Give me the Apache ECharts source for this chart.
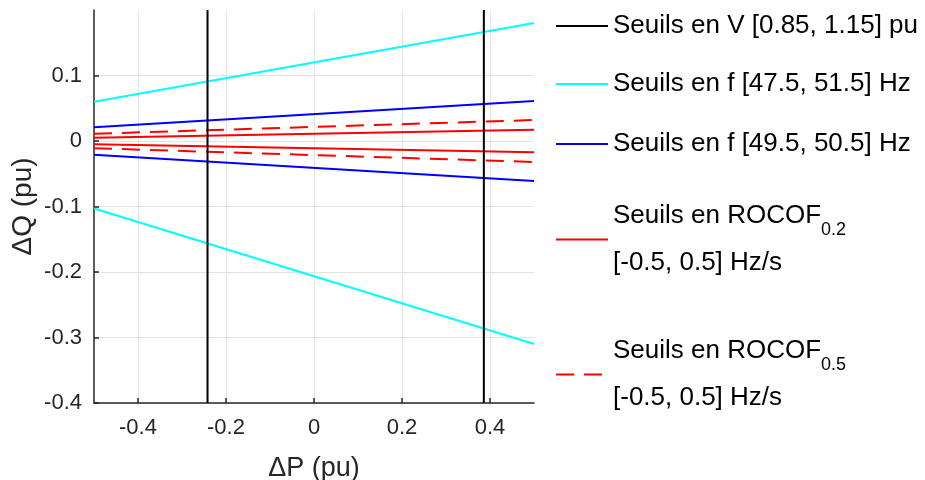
<!DOCTYPE html>
<html>
<head>
<meta charset="utf-8">
<script src="https://cdn.jsdelivr.net/npm/echarts@6/dist/echarts.min.js"></script>
<style>
html,body{margin:0;padding:0;background:#fff;}
#chart{width:925px;height:480px;}
</style>
</head>
<body>
<div id="chart"></div>
<script>
// ---- data ----
const xEnds = [-0.5, 0.5];              // ΔP at the ends of each threshold line
const yLimits = [-0.4, 0.2];            // ΔQ range spanned by the voltage thresholds
const vThresholds = [-0.242, 0.386];    // Seuils en V (vertical lines, ΔP)
const fWideUpper = [0.060, 0.180];      // Seuils en f [47.5, 51.5] Hz
const fWideLower = [-0.103, -0.310];
const fNarrowUpper = [0.021, 0.061];    // Seuils en f [49.5, 50.5] Hz
const fNarrowLower = [-0.021, -0.061];
const rocof02Upper = [0.005, 0.017];    // Seuils en ROCOF0.2
const rocof02Lower = [-0.005, -0.017];
const rocof05Upper = [0.011, 0.032];    // Seuils en ROCOF0.5
const rocof05Lower = [-0.011, -0.032];

const names = [
  'Seuils en V [0.85, 1.15] pu',
  'Seuils en f [47.5, 51.5] Hz',
  'Seuils en f [49.5, 50.5] Hz',
  'ROCOF02',
  'ROCOF05'
];

const pair = (ys) => xEnds.map((x, i) => [x, ys[i]]);
const vert = (x) => yLimits.map(y => [x, y]);

function lineSeries(name, data, color, type, width) {
  return {
    type: 'line', name: name, data: data, symbol: 'none',
    lineStyle: { color: color, width: width || 2, type: type || 'solid' },
    itemStyle: { color: color },
    silent: true, animation: false
  };
}

const series = [
  lineSeries(names[1], pair(fWideUpper), '#00FFFF'),
  lineSeries(names[1], pair(fWideLower), '#00FFFF'),
  lineSeries(names[2], pair(fNarrowUpper), '#0000FF'),
  lineSeries(names[2], pair(fNarrowLower), '#0000FF'),
  lineSeries(names[3], pair(rocof02Upper), '#FF0000'),
  lineSeries(names[3], pair(rocof02Lower), '#FF0000'),
  lineSeries(names[4], pair(rocof05Upper), '#FF0000', [18, 10]),
  lineSeries(names[4], pair(rocof05Lower), '#FF0000', [18, 10]),
  lineSeries(names[0], vert(vThresholds[0]), '#000000', 'solid', 2),
  lineSeries(names[0], vert(vThresholds[1]), '#000000', 'solid', 2)
];

const FONT = '"Liberation Sans", Arial, Helvetica, sans-serif';

const legendBase = {
  orient: 'vertical', left: 555, padding: 0,
  itemWidth: 52, itemHeight: 1, itemGap: 0,
  selectedMode: false,
  itemStyle: { opacity: 0 },
  textStyle: { fontFamily: FONT, fontSize: 26, color: '#000', lineHeight: 30 }
};
const rocofRich = {
  a: { fontFamily: FONT, fontSize: 26, color: '#000', lineHeight: 47 },
  sub: { fontFamily: FONT, fontSize: 18, color: '#000', lineHeight: 16, verticalAlign: 'bottom' }
};

const legends = [
  Object.assign({}, legendBase, { top: 11, data: [names[0]] }),
  Object.assign({}, legendBase, { top: 69, data: [names[1]] }),
  Object.assign({}, legendBase, { top: 129, data: [names[2]] }),
  Object.assign({}, legendBase, { top: 203, data: [names[3]],
    formatter: () => '{a|Seuils en ROCOF}{sub|0.2}\n{a|[-0.5, 0.5] Hz/s}',
    textStyle: { rich: rocofRich } }),
  Object.assign({}, legendBase, { top: 338, data: [names[4]],
    formatter: () => '{a|Seuils en ROCOF}{sub|0.5}\n{a|[-0.5, 0.5] Hz/s}',
    textStyle: { rich: rocofRich } })
];

const axisCol = '#262626';
const option = {
  animation: false,
  backgroundColor: '#fff',
  grid: { left: 94, top: 10, width: 440, height: 393, outerBoundsMode: 'none', containLabel: false },
  legend: legends,
  xAxis: {
    type: 'value', min: xEnds[0], max: xEnds[1], splitNumber: 5,
    name: 'ΔP (pu)', nameLocation: 'middle', nameGap: 52,
    nameTextStyle: { fontFamily: FONT, fontSize: 27, color: axisCol },
    axisLine: { show: true, onZero: false, lineStyle: { color: axisCol, width: 1.5 } },
    axisTick: { show: true, inside: true, length: 5, lineStyle: { color: axisCol, width: 1.5 } },
    axisLabel: { fontFamily: FONT, fontSize: 22, color: axisCol, margin: 14,
      showMinLabel: false, showMaxLabel: false },
    splitLine: { show: true, showMinLine: false, showMaxLine: false, lineStyle: { color: '#e3e3e3', width: 1 } }
  },
  yAxis: {
    type: 'value', min: yLimits[0], max: yLimits[1], interval: 0.1,
    name: 'ΔQ (pu)', nameLocation: 'middle', nameGap: 57,
    nameTextStyle: { fontFamily: FONT, fontSize: 28, color: axisCol },
    axisLine: { show: true, onZero: false, lineStyle: { color: axisCol, width: 1.5 } },
    axisTick: { show: true, inside: true, length: 5, lineStyle: { color: axisCol, width: 1.5 } },
    axisLabel: { fontFamily: FONT, fontSize: 22, color: axisCol, margin: 12, showMaxLabel: false },
    splitLine: { show: true, showMinLine: false, showMaxLine: false, lineStyle: { color: '#e3e3e3', width: 1 } }
  },
  series: series
};

const chart = echarts.init(document.getElementById('chart'), null, { renderer: 'canvas' });
chart.setOption(option);
</script>
</body>
</html>
